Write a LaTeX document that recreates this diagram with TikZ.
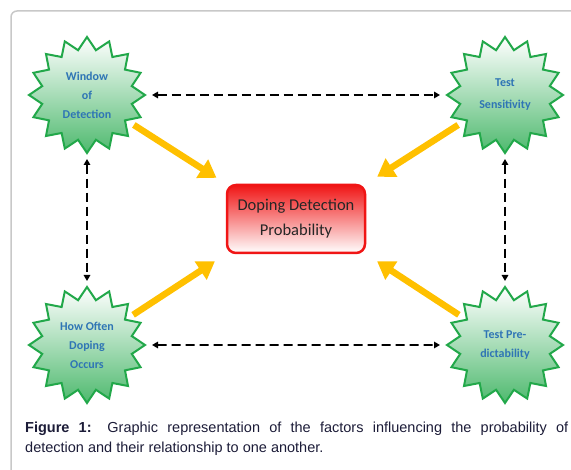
\documentclass[tikz,border=0pt]{standalone}
\usepackage{fontspec}
\usepackage{tikz}
\usetikzlibrary{positioning,arrows.meta,shapes.geometric}
\newfontfamily\calibri{Carlito}
\newfontfamily\arial{Liberation Sans}
\definecolor{cverde}{HTML}{22A84A}
\definecolor{cazul}{HTML}{2F75B5}
\definecolor{crojo}{HTML}{F01515}
\definecolor{camarillo}{HTML}{FFC000}
\definecolor{cgris}{HTML}{C8C8C8}
\definecolor{ctexto}{HTML}{262626}
\definecolor{cpie}{HTML}{1C1C38}
\tikzset{
  estrella/.style={star, star points=16, star point ratio=1.27, minimum size=116pt,
    inner sep=0pt, outer sep=0pt, draw=cverde, line width=2pt,
    top color=white, bottom color=cverde!80, align=center, text=cazul,
    font=\calibri\bfseries\fontsize{12}{19}\selectfont},
  caja/.style={rectangle, rounded corners=9pt, draw=crojo, line width=2.5pt,
    top color=crojo, bottom color=white, minimum width=138pt, minimum height=68pt,
    align=center, text=ctexto, font=\calibri\fontsize{16.5}{25}\selectfont},
  flechaam/.style={-{Triangle[length=17pt,width=21pt]}, line width=6.5pt, draw=camarillo},
  flechad/.style={{Triangle[length=6pt,width=6.5pt]}-{Triangle[length=6pt,width=6.5pt]},
    line width=1.6pt, dash pattern=on 9pt off 5pt},
  leyenda/.style={text width=543pt, align=justify, inner sep=0pt, text=cpie,
    font=\arial\fontsize{14.5}{20}\selectfont},
  marco/.style={draw=cgris, line width=1.5pt, rounded corners=6pt},
}

\begin{document}
\begin{tikzpicture}[x=1pt, y=-1pt]
  \useasboundingbox (0,0) rectangle (571,470);
  \draw[marco] (11,480) -- (11,11) -- (585,11);

  \node[estrella] (ventana) at (87,95) {Window\\of\\Detection};
  \node[estrella, right=302pt of ventana] (sensib) {Test\\[3pt]Sensitivity};
  \node[estrella, below=134pt of ventana] (frec) {How Often\\Doping\\Occurs};
  \node[estrella, below=134pt of sensib] (predic) {Test Pre-\\dictability};
  \node[caja] (prob) at (296,219) {Doping Detection\\Probability};

  \draw[flechad, shorten <=7pt, shorten >=7pt] (ventana) -- (sensib);
  \draw[flechad, shorten <=7pt, shorten >=7pt] (frec) -- (predic);
  \draw[flechad, shorten <=6pt, shorten >=6pt] (ventana) -- (frec);
  \draw[flechad, shorten <=6pt, shorten >=6pt] (sensib) -- (predic);

  \draw[flechaam, shorten <=9pt, shorten >=11pt] (ventana) -- (prob.north west);
  \draw[flechaam, shorten <=9pt, shorten >=13pt] (sensib) -- (prob.north east);
  \draw[flechaam, shorten <=9pt, shorten >=13pt] (frec) -- (prob.south west);
  \draw[flechaam, shorten <=9pt, shorten >=13pt] (predic) -- (prob.south east);

  \node[leyenda, anchor=north west] (pie) at (25,422)
    {\textbf{Figure 1:} Graphic representation of the factors influencing the probability of\linebreak detection and their relationship to one another.};
\end{tikzpicture}
\end{document}
